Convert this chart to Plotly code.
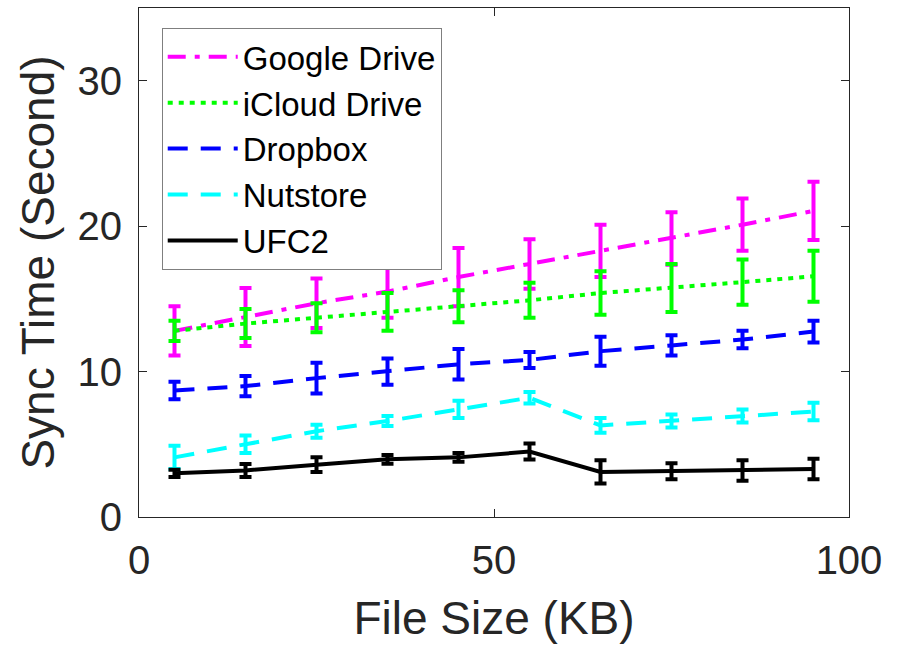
import plotly.graph_objects as go

file_size = [5, 15, 25, 35, 45, 55, 65, 75, 85, 95]

google_mean = [12.8, 13.75, 14.7, 15.5, 16.5, 17.4, 18.3, 19.15, 20.1, 21.05]
google_err = [1.7, 2.0, 1.7, 1.8, 2.0, 1.7, 1.8, 1.8, 1.8, 2.0]

icloud_mean = [12.8, 13.3, 13.7, 14.1, 14.5, 14.9, 15.4, 15.75, 16.15, 16.55]
icloud_err = [0.7, 1.0, 1.0, 1.3, 1.1, 1.2, 1.5, 1.65, 1.55, 1.75]

dropbox_mean = [8.7, 9.0, 9.55, 10.0, 10.5, 10.8, 11.4, 11.8, 12.2, 12.75]
dropbox_err = [0.6, 0.7, 1.05, 0.9, 1.05, 0.55, 1.0, 0.7, 0.6, 0.75]

nutstore_mean = [4.1, 5.0, 5.9, 6.6, 7.4, 8.2, 6.3, 6.6, 6.95, 7.25]
nutstore_err = [0.8, 0.6, 0.45, 0.35, 0.6, 0.4, 0.5, 0.45, 0.45, 0.6]

ufc2_mean = [3.0, 3.2, 3.6, 3.97, 4.1, 4.5, 3.1, 3.15, 3.2, 3.3]
ufc2_err = [0.25, 0.45, 0.5, 0.3, 0.3, 0.55, 0.8, 0.55, 0.7, 0.7]

series = [
    ("Google Drive", google_mean, google_err, "#FF00FF", "18px,9px,5px,9px"),
    ("iCloud Drive", icloud_mean, icloud_err, "#00FF00", "5px,6px"),
    ("Dropbox", dropbox_mean, dropbox_err, "#0000FF", "20px,13px"),
    ("Nutstore", nutstore_mean, nutstore_err, "#00FFFF", "20px,13px"),
    ("UFC2", ufc2_mean, ufc2_err, "#000000", "solid"),
]

fig = go.Figure()
for name, mean, err, color, dash in series:
    fig.add_trace(go.Scatter(
        x=file_size, y=mean, name=name, mode="lines",
        line=dict(color=color, width=4, dash=dash),
        error_y=dict(type="data", array=err, visible=True,
                     color=color, thickness=4, width=6),
    ))

FONT = "Liberation Sans, Arial, Helvetica, sans-serif"
axis_common = dict(
    showline=True, linecolor="#262626", linewidth=1, mirror="ticks",
    ticks="inside", ticklen=8, tickcolor="#262626", tickwidth=1,
    showgrid=False, zeroline=False,
    tickfont=dict(family=FONT, size=40, color="#262626"),
)

fig.update_layout(
    width=899, height=647, autosize=False,
    margin=dict(l=139, r=50, t=8, b=130),
    paper_bgcolor="white", plot_bgcolor="white",
    font=dict(family=FONT, color="#262626"),
    xaxis=dict(range=[0, 100], tickvals=[0, 50, 100], ticklabelstandoff=8,
               title=dict(text="File Size (KB)", font=dict(family=FONT, size=46, color="#262626"), standoff=20),
               **axis_common),
    yaxis=dict(range=[0, 35], tickvals=[0, 10, 20, 30], ticklabelstandoff=8,
               title=dict(text="Sync Time (Second)", font=dict(family=FONT, size=46, color="#262626"), standoff=8),
               **axis_common),
    legend=dict(x=0.032, y=0.961, xanchor="left", yanchor="top",
                bgcolor="white", bordercolor="#7f7f7f", borderwidth=1,
                font=dict(family=FONT, size=33, color="black"),
                tracegroupgap=0, itemwidth=70),
    showlegend=True,
)

fig.write_html("out.html")
